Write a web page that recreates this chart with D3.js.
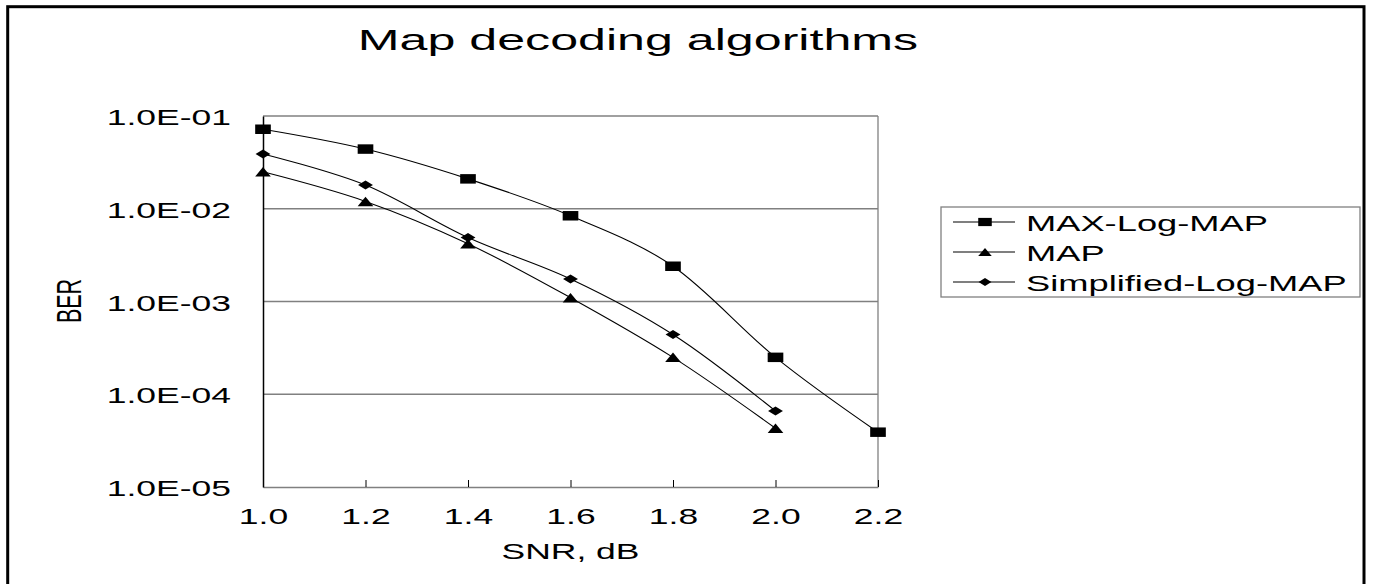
<!DOCTYPE html>
<html>
<head>
<meta charset="utf-8">
<script src="https://cdn.jsdelivr.net/npm/d3@7"></script>
<style>
body { margin: 0; background: #fff; }
svg { display: block; font-family: "Liberation Sans", Arial, sans-serif; }
</style>
</head>
<body>
<div class="svg-container"></div>
<script>
// data
var snr = [1.0, 1.2, 1.4, 1.6, 1.8, 2.0, 2.2];
var maxLogMap = [7.2e-2, 4.4e-2, 2.1e-2, 8.4e-3, 2.4e-3, 2.5e-4, 3.9e-5];
var mapBer = [2.5e-2, 1.2e-2, 4.2e-3, 1.1e-3, 2.5e-4, 4.3e-5];
var simplifiedLogMap = [3.9e-2, 1.8e-2, 4.9e-3, 1.75e-3, 4.4e-4, 6.6e-5];
var seriesNames = ["MAX-Log-MAP", "MAP", "Simplified-Log-MAP"];
var xTicks = [1.0, 1.2, 1.4, 1.6, 1.8, 2.0, 2.2];
var yTicks = [1e-1, 1e-2, 1e-3, 1e-4, 1e-5];

var pageWidth = 1374,
	pageHeight = 584;

var plot = {left: 263, right: 878, top: 116, bottom: 487};

// the original picture is squeezed horizontally, glyphs and markers are wide
var stretch = 1.65;

var squareMark = {
	draw: function(ctx, size) {
		var h = Math.sqrt(size) / 2;
		ctx.rect(-h, -h, 2 * h, 2 * h);
	}
};
var triangleMark = {
	draw: function(ctx, size) {
		var h = Math.sqrt(size) / 2;
		ctx.moveTo(0, -h);
		ctx.lineTo(h, h);
		ctx.lineTo(-h, h);
		ctx.closePath();
	}
};
var diamondMark = {
	draw: function(ctx, size) {
		var h = Math.sqrt(size) / 2;
		ctx.moveTo(0, -h);
		ctx.lineTo(h, 0);
		ctx.lineTo(0, h);
		ctx.lineTo(-h, 0);
		ctx.closePath();
	}
};

var series = [
	{name: seriesNames[0], values: maxLogMap, mark: squareMark, size: 90},
	{name: seriesNames[1], values: mapBer, mark: triangleMark, size: 90},
	{name: seriesNames[2], values: simplifiedLogMap, mark: diamondMark, size: 81}
];

var svg = d3.select(".svg-container")
	.append("svg")
	.attr("width", pageWidth)
	.attr("height", pageHeight);

var x = d3.scaleLinear().domain([1.0, 2.2]).range([plot.left, plot.right]);
var y = d3.scaleLog().domain([1e-5, 1e-1]).range([plot.bottom, plot.top]);

function wideText(sel, tx, ty, rot) {
	sel.attr("transform", "translate(" + tx + "," + ty + ") scale(" + stretch + ",1)" + (rot ? " rotate(" + rot + ")" : ""));
	return sel;
}

function drawFrame() {
	// outer chart border
	svg.append("rect")
		.attr("x", 7.7).attr("y", 6.7)
		.attr("width", 1356.3).attr("height", 620)
		.attr("fill", "none")
		.attr("stroke", "#000")
		.attr("stroke-width", 3);

	// gridlines (top one doubles as the plot border)
	svg.append("g").selectAll("line")
		.data(yTicks.slice(0, 4))
		.enter().append("line")
		.attr("x1", plot.left).attr("x2", plot.right)
		.attr("y1", function(d) { return y(d); })
		.attr("y2", function(d) { return y(d); })
		.attr("stroke", "#808080")
		.attr("stroke-width", 1.3);

	svg.append("line")
		.attr("x1", plot.right).attr("x2", plot.right)
		.attr("y1", plot.top).attr("y2", plot.bottom)
		.attr("stroke", "#808080")
		.attr("stroke-width", 1.3);
}

function drawAxes() {
	var xAxis = d3.axisBottom(x)
		.tickValues(xTicks)
		.tickSizeInner(-7)
		.tickSizeOuter(0)
		.tickFormat(d3.format(".1f"));

	var gx = svg.append("g")
		.attr("transform", "translate(0," + plot.bottom + ")")
		.call(xAxis);
	gx.select(".domain").attr("stroke", "#808080").attr("stroke-width", 1.5);
	gx.selectAll(".tick line").attr("stroke", "#000").attr("stroke-width", 1);
	gx.selectAll(".tick text")
		.attr("y", null).attr("dy", null)
		.attr("font-size", 21.5)
		.attr("fill", "#000")
		.attr("text-anchor", "middle")
		.each(function() { wideText(d3.select(this), 0, 37); });

	var yAxis = d3.axisLeft(y)
		.tickValues(yTicks)
		.tickSize(0)
		.tickFormat(function(d) { return "1.0E-0" + Math.round(-Math.log10(d)); });

	var gy = svg.append("g")
		.attr("transform", "translate(" + plot.left + ",0)")
		.call(yAxis);
	gy.select(".domain").attr("stroke", "#000").attr("stroke-width", 1.5);
	gy.selectAll(".tick text")
		.attr("x", null).attr("dy", null)
		.attr("font-size", 21.5)
		.attr("fill", "#000")
		.attr("text-anchor", "end")
		.attr("dominant-baseline", "central")
		.each(function() { wideText(d3.select(this), -32, 1); });

	// titles
	wideText(svg.append("text"), 638, 50)
		.attr("text-anchor", "middle")
		.attr("font-size", 30.4)
		.text("Map decoding algorithms");

	wideText(svg.append("text"), (plot.left + plot.right) / 2, 559)
		.attr("text-anchor", "middle")
		.attr("font-size", 21.5)
		.text("SNR, dB");

	wideText(svg.append("text"), 81, 301, -90)
		.attr("text-anchor", "middle")
		.attr("font-size", 21.5)
		.text("BER");
}

function drawSeries() {
	var line = d3.line()
		.x(function(d, i) { return x(snr[i]); })
		.y(function(d) { return y(d); })
		.curve(d3.curveCatmullRom.alpha(0));

	series.forEach(function(s) {
		svg.append("path")
			.datum(s.values)
			.attr("fill", "none")
			.attr("stroke", "#000")
			.attr("stroke-width", 1.1)
			.attr("d", line);
	});

	series.forEach(function(s) {
		var sym = d3.symbol().type(s.mark).size(s.size);
		svg.append("g").selectAll("path")
			.data(s.values)
			.enter().append("path")
			.attr("d", sym)
			.attr("fill", "#000")
			.attr("transform", function(d, i) {
				return "translate(" + x(snr[i]) + "," + y(d) + ") scale(" + stretch + ",1)";
			});
	});
}

function drawLegend() {
	var lg = svg.append("g");
	lg.append("rect")
		.attr("x", 941).attr("y", 207)
		.attr("width", 419).attr("height", 90)
		.attr("fill", "#fff")
		.attr("stroke", "#808080")
		.attr("stroke-width", 1.3);

	var rows = lg.selectAll(".row")
		.data(series)
		.enter().append("g")
		.attr("class", "row")
		.attr("transform", function(d, i) { return "translate(0," + (222 + i * 30) + ")"; });

	rows.append("line")
		.attr("x1", 953).attr("x2", 1015)
		.attr("stroke", "#000")
		.attr("stroke-width", 1.1);

	rows.append("path")
		.attr("d", function(d) { return d3.symbol().type(d.mark).size(d.size * 0.75)(); })
		.attr("transform", "translate(985,0) scale(" + stretch + ",1)")
		.attr("fill", "#000");

	rows.append("text")
		.attr("font-size", 22)
		.attr("dominant-baseline", "central")
		.each(function() { wideText(d3.select(this), 1026, 1); })
		.text(function(d) { return d.name; });
}

drawFrame();
drawSeries();
drawAxes();
drawLegend();
</script>
</body>
</html>
